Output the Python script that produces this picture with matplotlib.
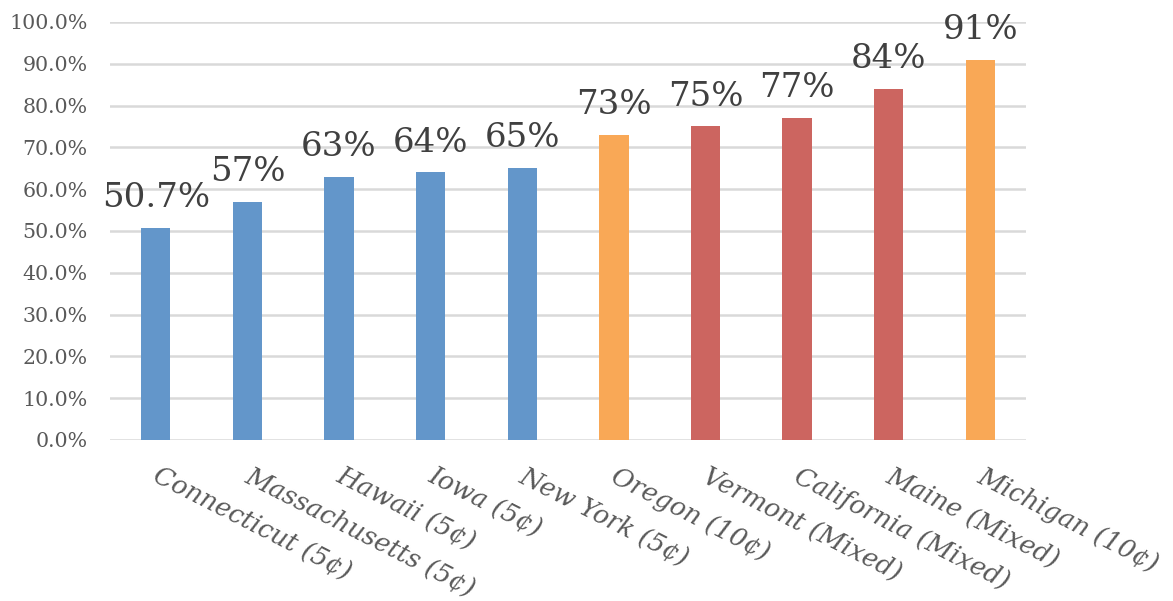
import numpy as np
import matplotlib.pyplot as plt
from matplotlib.ticker import PercentFormatter

# states and their redemption rates
states = ['Connecticut (5¢)', 'Massachusetts (5¢)', 'Hawaii (5¢)', 'Iowa (5¢)',
          'New York (5¢)', 'Oregon (10¢)', 'Vermont (Mixed)', 'California (Mixed)',
          'Maine (Mixed)', 'Michigan (10¢)']
rates = [50.7, 57, 63, 64, 65, 73, 75, 77, 84, 91]
rate_labels = ['50.7%', '57%', '63%', '64%', '65%', '73%', '75%', '77%', '84%', '91%']
deposit_type = ['5', '5', '5', '5', '5', '10', 'mixed', 'mixed', 'mixed', '10']

colors = {'5': '#6396CA', '10': '#F9A856', 'mixed': '#CC6560'}

fig = plt.figure(figsize=(11.73, 6.01), dpi=100)
ax = fig.add_axes([0.0938, 0.268, 0.781, 0.6954])

x = np.arange(len(states))
bars = ax.bar(x, rates, width=0.32, color=[colors[d] for d in deposit_type], zorder=3)

# value labels above bars
for xi, r, lab in zip(x, rates, rate_labels):
    ax.annotate(lab, (xi, r), xytext=(0, 15), textcoords='offset points',
                ha='center', va='baseline', fontsize=24.5, family='DejaVu Serif',
                color='#404040')

ax.set_xlim(-0.5, len(states) - 0.5)
ax.set_ylim(0, 100)
ax.set_yticks(np.arange(0, 101, 10))
ax.yaxis.set_major_formatter(PercentFormatter(decimals=1))
ax.grid(axis='y', color='#D9D9D9', linewidth=1.8, zorder=0)
for s in ax.spines.values():
    s.set_visible(False)

ax.tick_params(axis='y', length=0, pad=16, labelsize=14.8, labelcolor='#595959')
ax.tick_params(axis='x', length=0, pad=17)
for lbl in ax.get_yticklabels():
    lbl.set_family('DejaVu Serif')

ax.set_xticks(x + 0.05)
ax.set_xticklabels(states, rotation=-27, ha='left', va='top', rotation_mode='anchor',
                   fontsize=18.5, family='DejaVu Serif', style='italic', color='#595959')

fig.savefig('out.png', dpi=100)
